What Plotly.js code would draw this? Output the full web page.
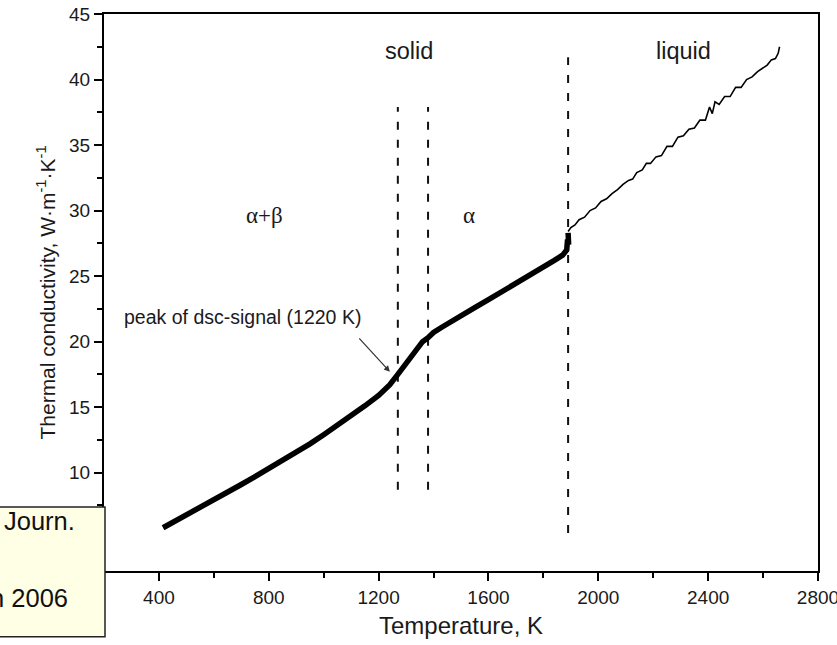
<!DOCTYPE html>
<html><head><meta charset="utf-8">
<script src="https://cdn.plot.ly/plotly-3.0.1.min.js"></script>
<style>html,body{margin:0;padding:0;background:#fff;}#chart{width:837px;height:645px;}</style>
</head><body><div id="chart"></div>
<script>
// Solid-state measurement (thick curve)
const solidT = [415, 450, 500, 550, 600, 650, 700, 750, 800, 850, 900, 950, 1000, 1050, 1100, 1150, 1200, 1240, 1270, 1300, 1320, 1340, 1360, 1380, 1400, 1430, 1460, 1500, 1550, 1600, 1650, 1700, 1750, 1800, 1840, 1870, 1885, 1888, 1892, 1890];
const solidK = [5.8, 6.2, 6.7, 7.3, 7.9, 8.5, 9.1, 9.7, 10.3, 10.9, 11.6, 12.2, 12.9, 13.6, 14.3, 15.1, 15.9, 16.7, 17.5, 18.3, 18.9, 19.5, 20.0, 20.3, 20.7, 21.1, 21.5, 22.0, 22.6, 23.2, 23.8, 24.4, 25.0, 25.7, 26.2, 26.6, 27.0, 27.8, 27.4, 28.3];
// Liquid measurement (thin, noisy curve)
const liquidT = [1890, 1900, 1915, 1930, 1950, 1970, 1990, 2010, 2030, 2050, 2070, 2090, 2110, 2125, 2140, 2160, 2175, 2190, 2210, 2230, 2250, 2270, 2290, 2310, 2330, 2350, 2370, 2390, 2405, 2415, 2425, 2440, 2460, 2480, 2500, 2520, 2540, 2560, 2580, 2600, 2615, 2630, 2645, 2655, 2660];
const liquidK = [28.4, 28.7, 28.9, 29.3, 29.5, 30.0, 30.2, 30.7, 30.9, 31.3, 31.6, 32.0, 32.3, 32.4, 32.9, 33.1, 33.6, 33.6, 34.1, 34.2, 34.9, 34.9, 35.6, 35.7, 36.2, 36.3, 36.9, 36.9, 37.9, 37.4, 38.3, 38.1, 38.7, 38.7, 39.4, 39.4, 40.0, 40.2, 40.6, 40.9, 41.1, 41.5, 41.6, 42.0, 42.5];
// Phase boundaries (dashed lines)
const transitionT = [1270, 1380, 1890];
const transitionTop = [37.9, 37.9, 41.7];
const transitionBottom = [8.7, 8.7, 5.4];
// Ticks
const xTickVals = [400, 800, 1200, 1600, 2000, 2400, 2800];
const xTickText = ['400', '800', '1200', '1600', '2000', '2400', '2800'];
const yTickVals = [5, 10, 15, 20, 25, 30, 35, 40, 45];
const yTickText = ['5', '10', '15', '20', '25', '30', '35', '40', '45'];

const sans = 'Liberation Sans, Arial, Helvetica, sans-serif';
const serif = 'Liberation Serif, Times New Roman, serif';
const ink = '#1a1a1a';

const traces = [];
transitionT.forEach((t, i) => {
  traces.push({
    x: [t, t], y: [transitionBottom[i], transitionTop[i]],
    mode: 'lines', line: {color: '#111', width: 2, dash: '8px,10px'},
    hoverinfo: 'skip', showlegend: false
  });
});
traces.push({x: solidT, y: solidK, mode: 'lines', line: {color: '#000', width: 5.5}, showlegend: false});
traces.push({x: liquidT, y: liquidK, mode: 'lines', line: {color: '#000', width: 1.6}, showlegend: false});

const axisCommon = {
  showline: true, mirror: true, linecolor: '#000', linewidth: 2,
  ticks: 'outside', ticklen: 8, tickwidth: 2, tickcolor: '#000',
  showgrid: false, zeroline: false,
  tickfont: {family: sans, size: 19, color: ink},
  tickmode: 'array', ticklabeloverflow: 'allow'
};

const layout = {
  width: 837, height: 645,
  margin: {l: 104, r: 19, t: 14, b: 74},
  paper_bgcolor: '#fff', plot_bgcolor: '#fff',
  showlegend: false,
  xaxis: Object.assign({}, axisCommon, {
    range: [200, 2800], tickvals: xTickVals, ticktext: xTickText,
    minor: {dtick: 200, tick0: 0, ticklen: 5, tickwidth: 2, tickcolor: '#000', ticks: 'outside'},
    title: {text: 'Temperature, K', font: {family: sans, size: 24, color: ink}, standoff: 10}
  }),
  yaxis: Object.assign({}, axisCommon, {
    range: [2.5, 45], tickvals: yTickVals, ticktext: yTickText,
    minor: {dtick: 2.5, tick0: 0, ticklen: 5, tickwidth: 2, tickcolor: '#000', ticks: 'outside'},
    title: {text: 'Thermal conductivity, W·m<sup>-1</sup>·K<sup>-1</sup>', font: {family: sans, size: 21, color: ink}, standoff: 8}
  }),
  shapes: [{
    type: 'rect', xref: 'paper', yref: 'paper', layer: 'above',
    x0: -0.16, x1: 0.0014, y0: -0.118, y1: 0.1149,
    fillcolor: '#FFFFE6', line: {color: '#222', width: 1.5}
  }],
  annotations: [
    {x: 1312, y: 42.2, xref: 'x', yref: 'y', text: 'solid', showarrow: false, font: {family: sans, size: 23.5, color: ink}},
    {x: 2312, y: 42.2, xref: 'x', yref: 'y', text: 'liquid', showarrow: false, font: {family: sans, size: 23.5, color: ink}},
    {x: 783, y: 29.6, xref: 'x', yref: 'y', text: 'α+β', showarrow: false, font: {family: serif, size: 23, color: ink}},
    {x: 1529, y: 29.6, xref: 'x', yref: 'y', text: 'α', showarrow: false, font: {family: serif, size: 23, color: ink}},
    {x: 704, y: 21.9, xref: 'x', yref: 'y', text: 'peak of dsc-signal (1220 K)', showarrow: false, font: {family: sans, size: 19.5, color: ink}},
    {x: 1241, y: 17.7, xref: 'x', yref: 'y', text: '', showarrow: true, ax: -32, ay: -35,
     arrowhead: 2, arrowsize: 1, arrowwidth: 1.2, arrowcolor: '#333', standoff: 0},
    {x: -0.0378, y: 0.061, xref: 'paper', yref: 'paper', xanchor: 'right', text: 'Journ.', showarrow: false, font: {family: sans, size: 25.5, color: '#111'}},
    {x: -0.047, y: -0.077, xref: 'paper', yref: 'paper', xanchor: 'right', text: 'n 2006', showarrow: false, font: {family: sans, size: 25.5, color: '#111'}}
  ]
};

Plotly.newPlot('chart', traces, layout, {displayModeBar: false, staticPlot: true});
</script>
</body></html>
